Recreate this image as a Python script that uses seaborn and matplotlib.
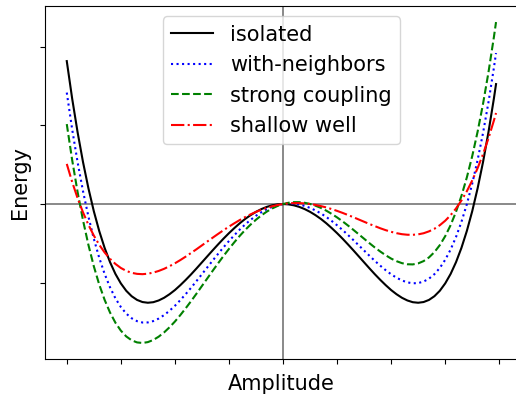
import matplotlib
matplotlib.use("Agg")
import matplotlib.pyplot as plt
import seaborn as sns
import pandas as pd

amplitude = [-2.00, -1.95, -1.90, -1.85, -1.80, -1.75, -1.70, -1.65, -1.60, -1.55,
             -1.50, -1.45, -1.40, -1.35, -1.30, -1.25, -1.20, -1.15, -1.10, -1.05,
             -1.00, -0.95, -0.90, -0.85, -0.80, -0.75, -0.70, -0.65, -0.60, -0.55,
             -0.50, -0.45, -0.40, -0.35, -0.30, -0.25, -0.20, -0.15, -0.10, -0.05,
             0.00, 0.05, 0.10, 0.15, 0.20, 0.25, 0.30, 0.35, 0.40, 0.45,
             0.50, 0.55, 0.60, 0.65, 0.70, 0.75, 0.80, 0.85, 0.90, 0.95,
             1.00, 1.05, 1.10, 1.15, 1.20, 1.25, 1.30, 1.35, 1.40, 1.45,
             1.50, 1.55, 1.60, 1.65, 1.70, 1.75, 1.80, 1.85, 1.90, 1.95, 1.97]

isolated = [1.816, 1.339, 0.913, 0.535, 0.202, -0.090, -0.342, -0.557, -0.738, -0.888,
            -1.008, -1.102, -1.171, -1.218, -1.245, -1.254, -1.247, -1.225, -1.191, -1.146,
            -1.093, -1.031, -0.964, -0.893, -0.818, -0.741, -0.664, -0.587, -0.512, -0.439,
            -0.370, -0.305, -0.244, -0.189, -0.141, -0.099, -0.064, -0.036, -0.016, -0.004,
            0.000, -0.004, -0.016, -0.036, -0.064, -0.099, -0.141, -0.189, -0.244, -0.305,
            -0.370, -0.439, -0.512, -0.587, -0.664, -0.741, -0.818, -0.893, -0.964, -1.031,
            -1.093, -1.146, -1.191, -1.225, -1.247, -1.254, -1.245, -1.218, -1.171, -1.102,
            -1.008, -0.888, -0.738, -0.557, -0.342, -0.090, 0.202, 0.535, 0.913, 1.339, 1.524]

with_neighbors = [1.416, 0.949, 0.533, 0.165, -0.158, -0.440, -0.682, -0.887, -1.058, -1.198,
                  -1.308, -1.392, -1.451, -1.488, -1.505, -1.504, -1.487, -1.455, -1.411, -1.356,
                  -1.293, -1.221, -1.144, -1.063, -0.978, -0.891, -0.804, -0.717, -0.632, -0.549,
                  -0.470, -0.395, -0.324, -0.259, -0.201, -0.149, -0.104, -0.066, -0.036, -0.014,
                  0.000, 0.006, 0.004, -0.006, -0.024, -0.049, -0.081, -0.119, -0.164, -0.215,
                  -0.270, -0.329, -0.392, -0.457, -0.524, -0.591, -0.658, -0.723, -0.784, -0.841,
                  -0.893, -0.936, -0.971, -0.995, -1.007, -1.004, -0.985, -0.948, -0.891, -0.812,
                  -0.708, -0.578, -0.418, -0.227, -0.002, 0.260, 0.562, 0.905, 1.293, 1.729, 1.918]

strong_coupling = [1.016, 0.559, 0.153, -0.205, -0.518, -0.790, -1.022, -1.217, -1.378, -1.508,
                   -1.608, -1.682, -1.731, -1.758, -1.765, -1.754, -1.727, -1.685, -1.631, -1.566,
                   -1.493, -1.411, -1.324, -1.233, -1.138, -1.041, -0.944, -0.847, -0.752, -0.659,
                   -0.570, -0.485, -0.404, -0.329, -0.261, -0.199, -0.144, -0.096, -0.056, -0.024,
                   0.000, 0.016, 0.024, 0.024, 0.016, 0.001, -0.021, -0.049, -0.084, -0.125,
                   -0.170, -0.219, -0.272, -0.327, -0.384, -0.441, -0.498, -0.553, -0.604, -0.651,
                   -0.693, -0.726, -0.751, -0.765, -0.767, -0.754, -0.725, -0.678, -0.611, -0.522,
                   -0.408, -0.268, -0.098, 0.103, 0.338, 0.610, 0.922, 1.275, 1.673, 2.119, 2.312]

shallow_well = [0.510, 0.280, 0.075, -0.105, -0.263, -0.400, -0.517, -0.615, -0.696, -0.761,
                -0.812, -0.849, -0.874, -0.887, -0.891, -0.885, -0.871, -0.850, -0.823, -0.790,
                -0.753, -0.712, -0.668, -0.621, -0.574, -0.525, -0.476, -0.427, -0.379, -0.332,
                -0.287, -0.244, -0.203, -0.166, -0.131, -0.100, -0.072, -0.048, -0.028, -0.012,
                0.000, 0.008, 0.012, 0.012, 0.008, 0.000, -0.011, -0.026, -0.043, -0.064,
                -0.087, -0.112, -0.139, -0.167, -0.196, -0.225, -0.254, -0.281, -0.308, -0.332,
                -0.353, -0.370, -0.383, -0.390, -0.391, -0.385, -0.371, -0.347, -0.314, -0.269,
                -0.212, -0.141, -0.056, 0.045, 0.163, 0.300, 0.457, 0.635, 0.835, 1.060, 1.157]

series_labels = ["isolated", "with-neighbors", "strong coupling", "shallow well"]
series_values = [isolated, with_neighbors, strong_coupling, shallow_well]
series_colors = ["black", "blue", "green", "red"]
series_styles = ["-", ":", "--", "-."]

x_ticks = [-2.0, -1.5, -1.0, -0.5, 0.0, 0.5, 1.0, 1.5, 2.0]
y_ticks = [-1, 0, 1, 2]

fig = plt.figure(figsize=(5.16, 3.96), dpi=100)
ax = fig.add_axes([0.0878, 0.0934, 0.9151, 0.8914])

for label, vals, col, ls in zip(series_labels, series_values, series_colors, series_styles):
    df = pd.DataFrame({"Amplitude": amplitude, "Energy": vals})
    sns.lineplot(data=df, x="Amplitude", y="Energy", ax=ax, color=col,
                 linestyle=ls, linewidth=1.5, label=label, sort=False)

ax.axhline(0, color="gray", linewidth=1.3, zorder=0.5)
ax.axvline(0, color="gray", linewidth=1.3, zorder=0.5)

ax.spines["right"].set_visible(False)
ax.set_xticks(x_ticks)
ax.set_yticks(y_ticks)
ax.set_xticklabels([])
ax.set_yticklabels([])
ax.set_xlabel("Amplitude", fontsize=15)
ax.set_ylabel("Energy", fontsize=15)
ax.legend(loc="upper center", fontsize=15)

fig.savefig("out.png", dpi=100)
